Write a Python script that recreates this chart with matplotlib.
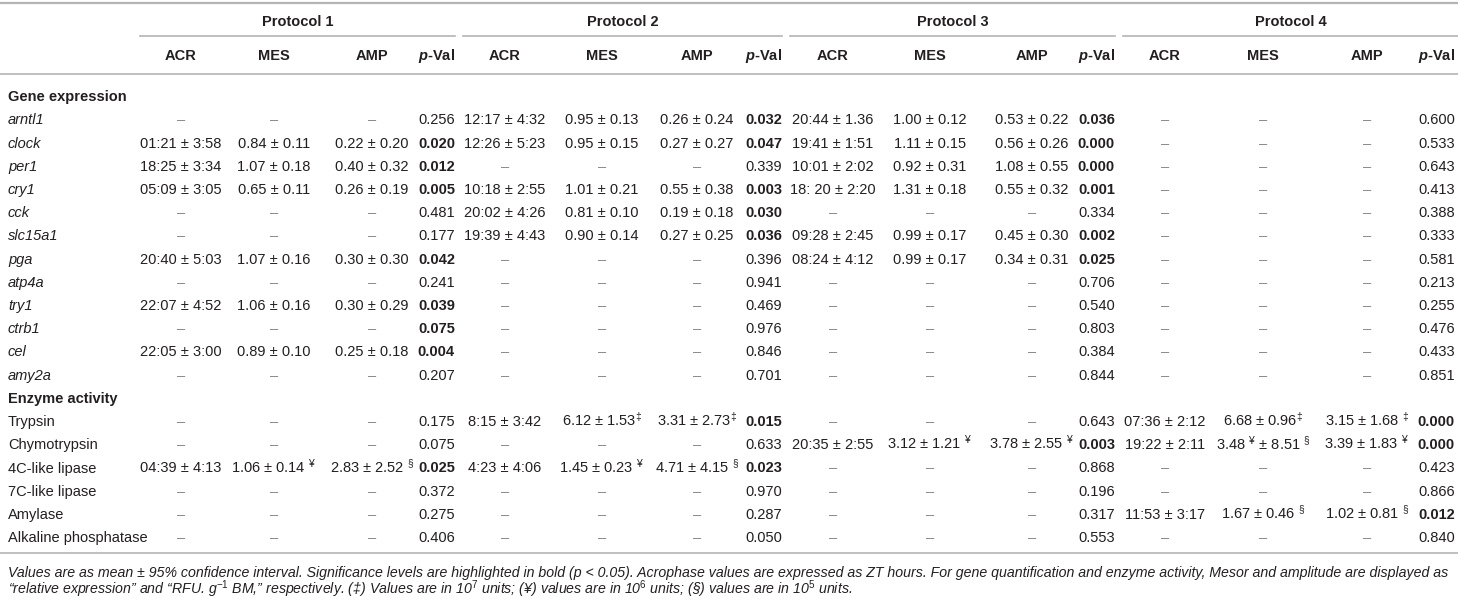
"""
Cosinor table: acrophase, mesor and amplitude for four feeding protocols.
Drawn as a table with plain text on a pixel-sized axes.
"""
import re
import matplotlib
matplotlib.use("Agg")
import matplotlib.pyplot as plt

plt.rcParams["font.family"] = ["Liberation Sans", "DejaVu Sans"]
plt.rcParams["mathtext.fontset"] = "custom"
plt.rcParams["mathtext.rm"] = "Liberation Sans"
plt.rcParams["mathtext.it"] = "Liberation Sans:italic:bold"
plt.rcParams["mathtext.bf"] = "Liberation Sans:bold"

D = "–"

protocols = ["Protocol 1", "Protocol 2", "Protocol 3", "Protocol 4"]
subcols = ["ACR", "MES", "AMP", "$p$-Val"]

gene_rows = ["arntl1", "clock", "per1", "cry1", "cck", "slc15a1", "pga",
             "atp4a", "try1", "ctrb1", "cel", "amy2a"]
enzyme_rows = ["Trypsin", "Chymotrypsin", "4C-like lipase", "7C-like lipase",
               "Amylase", "Alkaline phosphatase"]

# Protocol 1 (12 genes then 6 enzymes)
p1_acr = [D, "01:21 ± 3:58", "18:25 ± 3:34", "05:09 ± 3:05", D, D, "20:40 ± 5:03", D,
          "22:07 ± 4:52", D, "22:05 ± 3:00", D,
          D, D, "04:39 ± 4:13", D, D, D]
p1_mes = [D, "0.84 ± 0.11", "1.07 ± 0.18", "0.65 ± 0.11", D, D, "1.07 ± 0.16", D,
          "1.06 ± 0.16", D, "0.89 ± 0.10", D,
          D, D, "1.06 ± 0.14 ¥", D, D, D]
p1_amp = [D, "0.22 ± 0.20", "0.40 ± 0.32", "0.26 ± 0.19", D, D, "0.30 ± 0.30", D,
          "0.30 ± 0.29", D, "0.25 ± 0.18", D,
          D, D, "2.83 ± 2.52 §", D, D, D]
p1_pval = ["0.256", "0.020", "0.012", "0.005", "0.481", "0.177", "0.042", "0.241",
           "0.039", "0.075", "0.004", "0.207",
           "0.175", "0.075", "0.025", "0.372", "0.275", "0.406"]

# Protocol 2
p2_acr = ["12:17 ± 4:32", "12:26 ± 5:23", D, "10:18 ± 2:55", "20:02 ± 4:26", "19:39 ± 4:43",
          D, D, D, D, D, D,
          "8:15 ± 3:42", D, "4:23 ± 4:06", D, D, D]
p2_mes = ["0.95 ± 0.13", "0.95 ± 0.15", D, "1.01 ± 0.21", "0.81 ± 0.10", "0.90 ± 0.14",
          D, D, D, D, D, D,
          "6.12 ± 1.53‡", D, "1.45 ± 0.23 ¥", D, D, D]
p2_amp = ["0.26 ± 0.24", "0.27 ± 0.27", D, "0.55 ± 0.38", "0.19 ± 0.18", "0.27 ± 0.25",
          D, D, D, D, D, D,
          "3.31 ± 2.73‡", D, "4.71 ± 4.15 §", D, D, D]
p2_pval = ["0.032", "0.047", "0.339", "0.003", "0.030", "0.036", "0.396", "0.941",
           "0.469", "0.976", "0.846", "0.701",
           "0.015", "0.633", "0.023", "0.970", "0.287", "0.050"]

# Protocol 3
p3_acr = ["20:44 ± 1.36", "19:41 ± 1:51", "10:01 ± 2:02", "18: 20 ± 2:20", D, "09:28 ± 2:45",
          "08:24 ± 4:12", D, D, D, D, D,
          D, "20:35 ± 2:55", D, D, D, D]
p3_mes = ["1.00 ± 0.12", "1.11 ± 0.15", "0.92 ± 0.31", "1.31 ± 0.18", D, "0.99 ± 0.17",
          "0.99 ± 0.17", D, D, D, D, D,
          D, "3.12 ± 1.21 ¥", D, D, D, D]
p3_amp = ["0.53 ± 0.22", "0.56 ± 0.26", "1.08 ± 0.55", "0.55 ± 0.32", D, "0.45 ± 0.30",
          "0.34 ± 0.31", D, D, D, D, D,
          D, "3.78 ± 2.55 ¥", D, D, D, D]
p3_pval = ["0.036", "0.000", "0.000", "0.001", "0.334", "0.002", "0.025", "0.706",
           "0.540", "0.803", "0.384", "0.844",
           "0.643", "0.003", "0.868", "0.196", "0.317", "0.553"]

# Protocol 4
p4_acr = [D] * 12 + ["07:36 ± 2:12", "19:22 ± 2:11", D, D, "11:53 ± 3:17", D]
p4_mes = [D] * 12 + ["6.68 ± 0.96‡", "3.48 ¥ ± 8.51 §", D, D, "1.67 ± 0.46 §", D]
p4_amp = [D] * 12 + ["3.15 ± 1.68 ‡", "3.39 ± 1.83 ¥", D, D, "1.02 ± 0.81 §", D]
p4_pval = ["0.600", "0.533", "0.643", "0.413", "0.388", "0.333", "0.581", "0.213",
           "0.255", "0.476", "0.433", "0.851",
           "0.000", "0.000", "0.423", "0.866", "0.012", "0.840"]

# bold = significant, plus one cell the source also set in bold
bold_extra = {(0, "ctrb1")}

footnote = [
    "Values are as mean ± 95% confidence interval. Significance levels are highlighted in bold "
    "(p < 0.05). Acrophase values are expressed as ZT hours. For gene quantification and enzyme "
    "activity, Mesor and amplitude are displayed as",
    "“relative expression” and “RFU. g$^{-1}$ BM,” respectively. (‡) Values are in 10$^{7}$ units; "
    "(¥) values are in 10$^{6}$ units; (§) values are in 10$^{5}$ units.",
]

table = [
    (p1_acr, p1_mes, p1_amp, p1_pval),
    (p2_acr, p2_mes, p2_amp, p2_pval),
    (p3_acr, p3_mes, p3_amp, p3_pval),
    (p4_acr, p4_mes, p4_amp, p4_pval),
]

# layout (pixels)
W, H = 1458, 600
TXT = "#231f20"
DASH = "#8a8a8a"
RULE = "#b4b4b4"
FS = 10.5
group_span = [(140, 455), (463, 782), (790, 1115), (1123, 1458)]
col_x = [(181, 274, 372, 455), (505, 602, 697, 782),
         (833, 930, 1032, 1115), (1165, 1263, 1367, 1455)]
y_title, y_sub = 21, 54.5
y_first, step = 96, 23.2
base = 5.3  # centre of cap height -> baseline offset


def sup(s):
    return re.sub(r"([‡¥§])", r"$^{\1}$", s)


fig = plt.figure(figsize=(W / 100, H / 100), dpi=100)
ax = fig.add_axes([0, 0, 1, 1])
ax.set_xlim(0, W)
ax.set_ylim(H, 0)
ax.axis("off")

# rules
ax.plot([0, W], [3, 3], color=RULE, lw=1.6)
ax.plot([0, W], [74, 74], color=RULE, lw=1.2)
ax.plot([0, W], [553, 553], color=RULE, lw=1.2)
for (x0, x1) in group_span:
    ax.plot([x0, x1], [36, 36], color=RULE, lw=1.2)

# headers
for i, name in enumerate(protocols):
    x0, x1 = group_span[i]
    ax.text((x0 + x1) / 2, y_title + base, name, ha="center", va="baseline",
            fontsize=FS, fontweight="bold", color=TXT)
    for j, sc in enumerate(subcols):
        ha = "right" if j == 3 else "center"
        ax.text(col_x[i][j], y_sub + base, sc, ha=ha, va="baseline",
                fontsize=FS, fontweight="bold", color=TXT)

# body
labels = [("Gene expression", None)] + [(g, "gene") for g in gene_rows] + \
         [("Enzyme activity", None)] + [(e, "enzyme") for e in enzyme_rows]
r = 0
for k, (lab, kind) in enumerate(labels):
    y = y_first + k * step + base
    if kind is None:
        ax.text(8, y, lab, ha="left", va="baseline", fontsize=FS,
                fontweight="bold", color=TXT)
        continue
    ax.text(8, y, lab, ha="left", va="baseline", fontsize=FS, color=TXT,
            fontstyle="italic" if kind == "gene" else "normal")
    for i, cols in enumerate(table):
        for j in range(3):
            val = cols[j][r]
            ax.text(col_x[i][j], y, sup(val), ha="center", va="baseline",
                    fontsize=FS, color=DASH if val == D else TXT)
        pv = cols[3][r]
        is_bold = float(pv) < 0.05 or (i, lab) in bold_extra
        ax.text(col_x[i][3], y, pv, ha="right", va="baseline", fontsize=FS,
                color=TXT, fontweight="bold" if is_bold else "normal")
    r += 1

for n, line in enumerate(footnote):
    ax.text(8, 572.5 + n * 17 + 4.8, line, ha="left", va="baseline", fontsize=10.2,
            fontstyle="italic", color=TXT)

fig.savefig("out.png", dpi=100)
